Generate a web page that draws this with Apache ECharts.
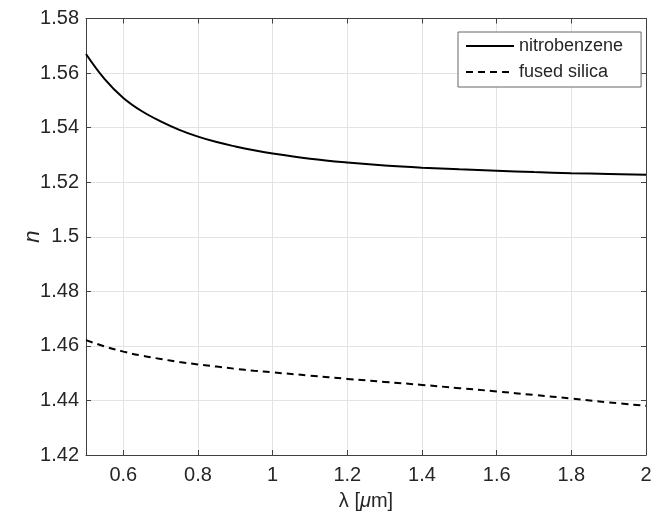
<!DOCTYPE html>
<html>
<head>
<meta charset="utf-8">
<script src="https://cdn.jsdelivr.net/npm/echarts@6/dist/echarts.min.js"></script>
<style>html,body{margin:0;padding:0;background:#fff}#c{width:665px;height:520px}</style>
</head>
<body>
<div id="c"></div>
<script>
const wavelength = [0.5, 0.55, 0.6, 0.65, 0.7, 0.75, 0.8, 0.85, 0.9, 0.95, 1.0, 1.1, 1.2, 1.3, 1.4, 1.5, 1.6, 1.7, 1.8, 1.9, 2.0];
const nitrobenzene = [1.5670, 1.5578, 1.5509, 1.5460, 1.5423, 1.5392, 1.5367, 1.5347, 1.5331, 1.5317, 1.5305, 1.5286, 1.5272, 1.5261, 1.5253, 1.5247, 1.5242, 1.5237, 1.5233, 1.5230, 1.5227];
const fusedSilica = [1.4621, 1.4598, 1.4579, 1.4564, 1.4552, 1.4541, 1.4532, 1.4524, 1.4516, 1.4509, 1.4503, 1.4491, 1.4479, 1.4468, 1.4457, 1.4445, 1.4433, 1.4420, 1.4407, 1.4393, 1.4380];
const xTicks = [0.6, 0.8, 1.0, 1.2, 1.4, 1.6, 1.8, 2.0];

const axisColor = '#404040';
const textColor = '#262626';
const gridColor = '#e3e3e3';
const font = 'Liberation Sans, Arial, sans-serif';

const chart = echarts.init(document.getElementById('c'));
const baseX = {
  type: 'value', min: 0.5, max: 2,
  axisLine: {show: true, onZero: false, lineStyle: {color: axisColor, width: 1}},
  axisTick: {show: true, inside: true, length: 5, customValues: xTicks, lineStyle: {color: axisColor}},
};
const baseY = {
  type: 'value', min: 1.42, max: 1.58, interval: 0.02,
  axisLine: {show: true, onZero: false, lineStyle: {color: axisColor, width: 1}},
  axisTick: {show: true, inside: true, length: 5, lineStyle: {color: axisColor}},
};
chart.setOption({
  animation: false,
  backgroundColor: '#fff',
  grid: {left: 86, right: 19, top: 18.5, bottom: 65, containLabel: false},
  legend: {
    orient: 'vertical', left: 458, top: 32,
    backgroundColor: '#fff', borderColor: '#666', borderWidth: 1,
    padding: [5, 18, 6, 7], itemGap: 8, itemWidth: 48, itemHeight: 14,
    itemStyle: {opacity: 0},
    textStyle: {fontFamily: font, fontSize: 18, lineHeight: 18, color: textColor},
    data: ['nitrobenzene', 'fused silica']
  },
  xAxis: [
    Object.assign({}, baseX, {
      position: 'bottom',
      axisLabel: {show: true, customValues: xTicks, margin: 10, fontFamily: font, fontSize: 20, color: textColor,
        formatter: v => String(Math.round(v * 10) / 10)},
      splitLine: {show: true, lineStyle: {color: gridColor, width: 1}},
      name: 'λ [{i|μ}m]', nameLocation: 'middle', nameGap: 36, nameMoveOverlap: false,
      nameTextStyle: {fontFamily: font, fontSize: 20, color: textColor,
        rich: {i: {fontFamily: font, fontSize: 20, fontStyle: 'italic', color: textColor}}}
    }),
    Object.assign({}, baseX, {
      position: 'top', axisLabel: {show: false}, splitLine: {show: false}
    })
  ],
  yAxis: [
    Object.assign({}, baseY, {
      position: 'left',
      axisLabel: {show: true, margin: 7, fontFamily: font, fontSize: 20, color: textColor,
        formatter: v => String(Math.round(v * 100) / 100)},
      splitLine: {show: true, lineStyle: {color: gridColor, width: 1}},
      name: 'n', nameLocation: 'middle', nameGap: 42, nameMoveOverlap: false,
      nameTextStyle: {fontFamily: font, fontSize: 22, fontStyle: 'italic', color: textColor}
    }),
    Object.assign({}, baseY, {
      position: 'right', axisLabel: {show: false}, splitLine: {show: false}
    })
  ],
  series: [
    {
      name: 'nitrobenzene', type: 'line', smooth: 0.4, symbol: 'none',
      xAxisIndex: 0, yAxisIndex: 0,
      lineStyle: {color: '#000', width: 2, type: 'solid'},
      itemStyle: {color: '#000'},
      data: wavelength.map((x, i) => [x, nitrobenzene[i]])
    },
    {
      name: 'fused silica', type: 'line', smooth: 0.4, symbol: 'none',
      xAxisIndex: 0, yAxisIndex: 0,
      lineStyle: {color: '#000', width: 2, type: [7, 5]},
      itemStyle: {color: '#000'},
      data: wavelength.map((x, i) => [x, fusedSilica[i]])
    }
  ]
});
</script>
</body>
</html>
